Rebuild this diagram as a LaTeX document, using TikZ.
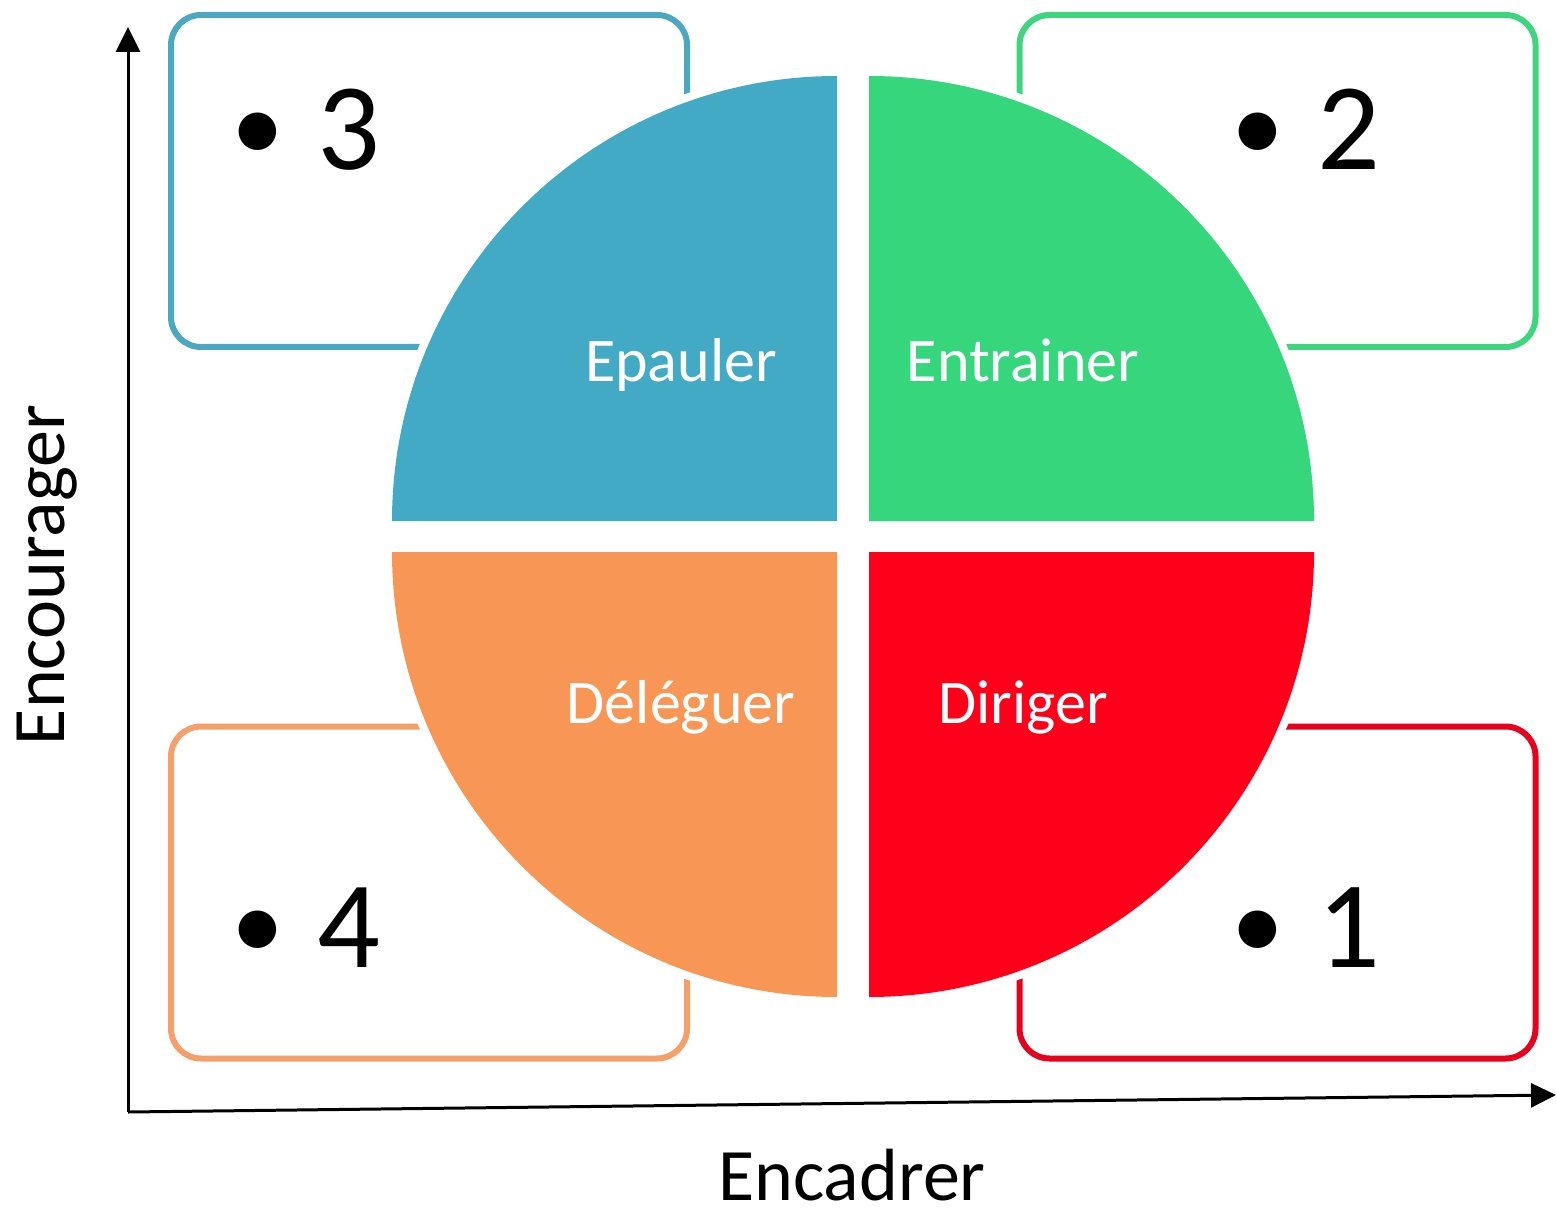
\documentclass[tikz,border=0pt]{standalone}
\usepackage{fontspec}
\setmainfont{Carlito}
\usetikzlibrary{arrows.meta}
\definecolor{qblue}{RGB}{66,170,196}
\definecolor{qgreen}{RGB}{53,214,124}
\definecolor{qorange}{RGB}{247,150,85}
\definecolor{qred}{RGB}{254,0,25}
\definecolor{bblue}{RGB}{74,168,192}
\definecolor{bgreen}{RGB}{61,213,126}
\definecolor{borange}{RGB}{245,160,106}
\definecolor{bred}{RGB}{232,0,28}
\newcommand{\bul}{\raisebox{4pt}{\fontsize{53}{53}\selectfont•}\hspace{16.5pt}}
\tikzset{
  framebox/.style={draw=#1, line width=3pt, rounded corners=15pt, minimum width=258pt, minimum height=166pt, inner sep=0pt},
  numtext/.style={font=\fontsize{62}{62}\selectfont, anchor=base west, inner sep=0pt, text=black},
  quadlabel/.style={font=\fontsize{31}{31}\selectfont, text=white, anchor=base, inner sep=0pt},
  axislabel/.style={font=\fontsize{37}{37}\selectfont, text=black, inner sep=0pt},
  axisline/.style={line width=1.5pt, -{Triangle[length=12.5pt,width=12pt]}}
}
\begin{document}
\begin{tikzpicture}[x=0.5pt,y=-0.5pt]
\useasboundingbox (0,0) rectangle (1556,1213);
% axes
\coordinate (origin) at (128,1112);
\coordinate (ytip) at (128,27);
\coordinate (xtip) at (1556,1095);
\draw[axisline] (origin) -- (ytip);
\draw[axisline] (origin) -- (xtip);
\node[axislabel, rotate=90] (ylab) at (47,575) {Encourager};
\node[axislabel, anchor=base] (xlab) at (852,1200) {Encadrer};
% boxes
\node[framebox=bblue] (boxtl) at (429,181) {};
\node[framebox=bgreen] (boxtr) at (1277.5,181) {};
\node[framebox=borange] (boxbl) at (429,892.5) {};
\node[framebox=bred] (boxbr) at (1277.5,892.5) {};
% box texts
\node[numtext] (n3) at (231,170) {\bul 3};
\node[numtext] (n2) at (1231,170) {\bul 2};
\node[numtext] (n4) at (231,967) {\bul 4};
\node[numtext] (n1) at (1231,967) {\bul 1};
% white halos
\fill[white] (837,521) -- ++(-453,0) arc[start angle=180,end angle=270,radius=453] -- cycle;
\fill[white] (869,521) -- ++(0,-453) arc[start angle=270,end angle=360,radius=453] -- cycle;
\fill[white] (869,552) -- ++(453,0) arc[start angle=0,end angle=90,radius=453] -- cycle;
\fill[white] (837,552) -- ++(0,453) arc[start angle=90,end angle=180,radius=453] -- cycle;
% quadrants
\fill[qblue] (837,521) -- ++(-445,0) arc[start angle=180,end angle=270,radius=445] -- cycle;
\fill[qgreen] (869,521) -- ++(0,-445) arc[start angle=270,end angle=360,radius=445] -- cycle;
\fill[qred] (869,552) -- ++(445,0) arc[start angle=0,end angle=90,radius=445] -- cycle;
\fill[qorange] (837,552) -- ++(0,445) arc[start angle=90,end angle=180,radius=445] -- cycle;
% quadrant labels
\node[quadlabel] (epauler) at (681,382) {Epauler};
\node[quadlabel] (entrainer) at (1023,382) {Entrainer};
\node[quadlabel] (deleguer) at (681,723) {Déléguer};
\node[quadlabel] (diriger) at (1023,723) {Diriger};
\end{tikzpicture}
\end{document}
